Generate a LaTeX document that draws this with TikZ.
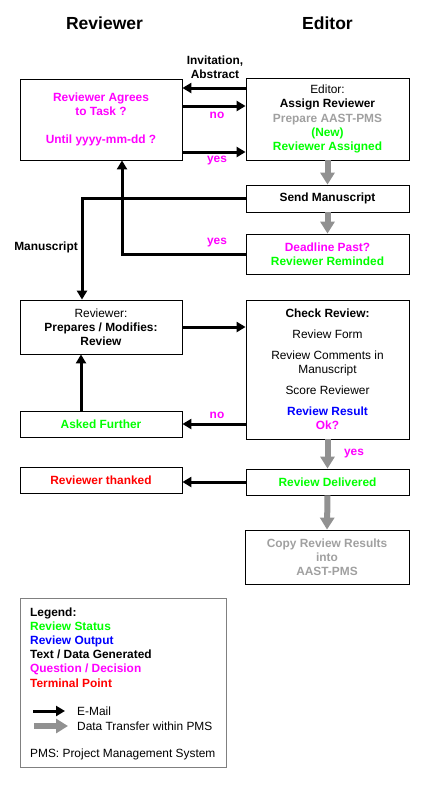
\documentclass[tikz,border=0pt]{standalone}
\usepackage{fontspec}
\setmainfont{Liberation Sans}
\usetikzlibrary{arrows.meta}
\definecolor{statgreen}{RGB}{0,255,0}
\definecolor{qmag}{RGB}{255,0,255}
\definecolor{outblue}{RGB}{0,0,255}
\definecolor{termred}{RGB}{255,0,0}
\definecolor{txtgray}{RGB}{160,160,160}
\definecolor{arrgray}{RGB}{145,145,145}
\definecolor{leggray}{RGB}{128,128,128}
\newcommand{\rvstat}[1]{\textcolor{statgreen}{\bfseries #1}}
\newcommand{\rvout}[1]{\textcolor{outblue}{\bfseries #1}}
\newcommand{\rvq}[1]{\textcolor{qmag}{\bfseries #1}}
\newcommand{\rvterm}[1]{\textcolor{termred}{\bfseries #1}}
\newcommand{\rvgray}[1]{\textcolor{txtgray}{\bfseries #1}}
\begin{document}
\begin{tikzpicture}[x=1pt,y=-1pt,
  every node/.style={font={\fontsize{11.9}{14.2}\selectfont}},
  box/.style={draw, line width=0.8pt, minimum width=162pt, inner sep=0pt, align=center},
  ltext/.style={anchor=base west, inner sep=0pt},
  title/.style={font={\fontsize{17.5}{20}\selectfont\bfseries}},
  email/.style={line width=3pt, -{Triangle[length=9pt,width=10pt]}},
  pms/.style={line width=6pt, draw=arrgray, -{Triangle[length=12pt,width=14pt]}},
  lbl/.style={inner sep=0pt, font={\fontsize{11.9}{14.2}\selectfont\bfseries}}]
\useasboundingbox (0,0) rectangle (424,785);

% titles
\node[title] (tRev) at (104.5,23) {Reviewer};
\node[title] (tEd) at (327.5,23) {Editor};

% boxes
\node[box, minimum height=81pt] (agree) at (101,119.5)
  {\rvq{Reviewer Agrees}\\\rvq{to Task ?}\\[14.2pt]\rvq{Until yyyy-mm-dd ?}};
\node[box, minimum width=163pt, minimum height=82pt] (editor) at (327.5,119)
  {Editor:\\\textbf{Assign Reviewer}\\\rvgray{Prepare AAST-PMS}\\\rvstat{(New)}\\\rvstat{Reviewer Assigned}};
\node[box, minimum width=163pt, minimum height=27pt] (send) at (327.5,198.5)
  {\textbf{Send Manuscript}};
\node[box, minimum width=163pt, minimum height=40pt] (deadline) at (327.5,254)
  {\rvq{Deadline Past?}\\\rvstat{Reviewer Reminded}};
\node[box, minimum height=54pt] (prepare) at (101,327)
  {Reviewer:\\\textbf{Prepares / Modifies:}\\\textbf{Review}};
\node[box, minimum width=163pt, minimum height=139pt] (check) at (327.5,369.5)
  {\textbf{Check Review:}\\[6.8pt]Review Form\\[6.8pt]Review Comments in\\Manuscript\\[6.8pt]Score Reviewer\\[6.8pt]\rvout{Review Result}\\\rvq{Ok?}};
\node[box, minimum height=26pt] (asked) at (101,424) {\rvstat{Asked Further}};
\node[box, minimum width=163pt, minimum height=26pt] (delivered) at (327.5,482) {\rvstat{Review Delivered}};
\node[box, minimum height=26pt] (thanked) at (101,480) {\rvterm{Reviewer thanked}};
\node[box, minimum width=164pt, minimum height=54pt] (copy) at (327,557)
  {\rvgray{Copy Review Results}\\\rvgray{into}\\\rvgray{AAST-PMS}};

% connectors
\draw[email] (editor.west |- 0,88) -- (agree.east |- 0,88);
\draw[email] (agree.east |- 0,106) -- (editor.west |- 0,106);
\draw[email] (agree.east |- 0,152) -- (editor.west |- 0,152);
\draw[pms] (editor.south) -- (send.north);
\draw[pms] (send.south) -- (deadline.north);
\draw[email] (deadline.west) -| (agree.south -| 122,0);
\draw[email] (send.west) -| (prepare.north -| 82,0);
\draw[email] (prepare.east) -- (check.west |- prepare.east);
\draw[email] (check.west |- asked.east) -- (asked.east);
\draw[email] (asked.north -| 81,0) -- (prepare.south -| 81,0);
\draw[pms] (check.south) -- (delivered.north);
\draw[email] (delivered.west) -- (thanked.east |- delivered.west);
\draw[pms] (delivered.south) -- (copy.north);

% labels
\node[lbl, align=center] (lInv) at (215,67) {Invitation,\\Abstract};
\node[lbl, text=qmag] (lNo1) at (217,115) {no};
\node[lbl, text=qmag] (lYes1) at (217,161) {yes};
\node[lbl, text=qmag] (lYes2) at (217,243) {yes};
\node[lbl] (lMan) at (46,247) {Manuscript};
\node[lbl, text=qmag] (lNo2) at (217,415) {no};
\node[lbl, text=qmag] (lYes3) at (354,454) {yes};

% legend
\node[draw=leggray, line width=0.8pt, minimum width=206pt, minimum height=169pt, inner sep=0pt] (legend) at (123,682.5) {};
\node[ltext] (lg0) at (30,616) {\textbf{Legend:}};
\node[ltext] (lg1) at (30,630.2) {\rvstat{Review Status}};
\node[ltext] (lg2) at (30,644.4) {\rvout{Review Output}};
\node[ltext] (lg3) at (30,658.6) {\textbf{Text / Data Generated}};
\node[ltext] (lg4) at (30,672.8) {\rvq{Question / Decision}};
\node[ltext] (lg5) at (30,687) {\rvterm{Terminal Point}};
\coordinate (ea) at (33,711);
\coordinate (eb) at (65,711);
\coordinate (ga) at (34,726);
\coordinate (gb) at (68,726);
\draw[email] (ea) -- (eb);
\draw[pms] (ga) -- (gb);
\node[ltext] (lg6) at (77,715) {E-Mail};
\node[ltext] (lg7) at (77,730) {Data Transfer within PMS};
\node[ltext] (lg8) at (30,757) {PMS: Project Management System};
\end{tikzpicture}
\end{document}
